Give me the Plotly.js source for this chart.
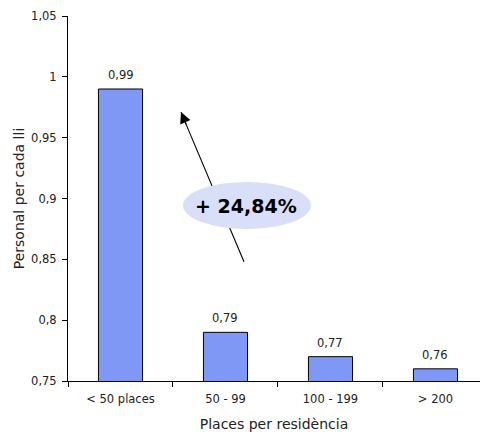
<!DOCTYPE html>
<html>
<head>
<meta charset="utf-8">
<script src="https://cdn.plot.ly/plotly-3.0.1.min.js"></script>
<style>html,body{margin:0;padding:0;background:#fff;}#chart{width:480px;height:432px;}</style>
</head>
<body>
<div id="chart"></div>
<script>
var categories = ["< 50 places", "50 - 99", "100 - 199", "> 200"];
var values = [0.99, 0.79, 0.77, 0.76];
var valueLabels = ["0,99", "0,79", "0,77", "0,76"];
var yTicks = [0.75, 0.8, 0.85, 0.9, 0.95, 1, 1.05];
var yTickLabels = ["0,75", "0,8", "0,85", "0,9", "0,95", "1", "1,05"];
var calloutText = "+ 24,84%";

var font = "DejaVu Sans, Verdana, sans-serif";

var trace = {
  type: "bar",
  x: categories,
  y: values,
  width: 0.42,
  marker: {color: "#7f98f5", line: {color: "#000", width: 1}},
  hoverinfo: "skip"
};

var annotations = categories.map(function(c, i) {
  return {x: c, y: values[i], text: valueLabels[i], showarrow: false,
    xref: "x", yref: "y", yanchor: "bottom", yshift: 5,
    font: {family: font, size: 11.5, color: "#222"}};
});
// arrowhead only (line is a shape behind the ellipse)
annotations.push({x: 0.576, y: 0.971, ax: 6, ay: 14, xref: "x", yref: "y",
  showarrow: true, arrowhead: 2, arrowsize: 2, arrowwidth: 1.1,
  arrowcolor: "#000", standoff: 0, text: ""});
// callout text
annotations.push({x: 1.2, y: 0.8935, xref: "x", yref: "y", text: "<b>" + calloutText + "</b>",
  showarrow: false, font: {family: font, size: 19, color: "#000"}});

var layout = {
  width: 480, height: 432,
  margin: {l: 68, r: 0, t: 16, b: 51},
  paper_bgcolor: "#fff", plot_bgcolor: "#fff",
  showlegend: false,
  bargap: 0.58,
  xaxis: {
    type: "category",
    range: [-0.5, 3.424],
    showline: true, linecolor: "#000", linewidth: 1,
    ticks: "outside", tickson: "boundaries", ticklen: 5, tickcolor: "#000",
    ticklabelstandoff: 7,
    showgrid: false, zeroline: false,
    tickfont: {family: font, size: 11.5, color: "#222"},
    title: {text: "Places per residència", font: {family: font, size: 14, color: "#222"}, standoff: 15}
  },
  yaxis: {
    range: [0.75, 1.05],
    tickvals: yTicks, ticktext: yTickLabels,
    showline: true, linecolor: "#000", linewidth: 1,
    ticks: "outside", ticklen: 5, tickcolor: "#000",
    ticklabelstandoff: 3,
    showgrid: false, zeroline: false,
    tickfont: {family: font, size: 11.5, color: "#222"},
    title: {text: "Personal per cada lli", font: {family: font, size: 14, color: "#222"}, standoff: 3}
  },
  shapes: [
    {type: "line", xref: "x", yref: "y", layer: "above",
      x0: 1.176, y0: 0.848, x1: 0.576, y1: 0.971,
      line: {color: "#000", width: 1.1}},
    {type: "circle", xref: "x", yref: "y", layer: "above",
      x0: 0.595, x1: 1.814, y0: 0.875, y1: 0.9136,
      fillcolor: "#d9def9", line: {width: 0}}
  ],
  annotations: annotations
};

Plotly.newPlot("chart", [trace], layout, {displayModeBar: false, staticPlot: true});
</script>
</body>
</html>
